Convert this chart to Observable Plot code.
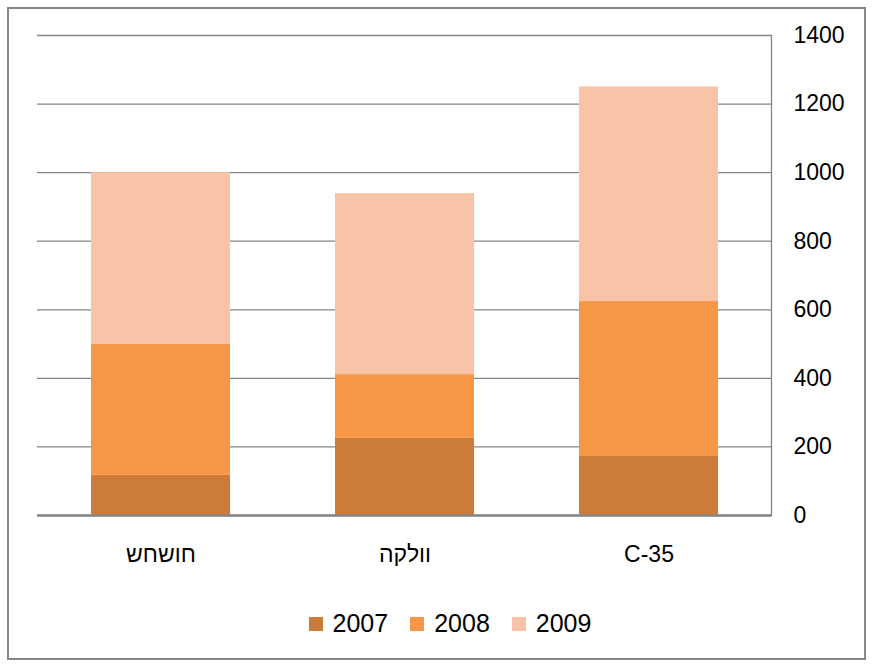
<!DOCTYPE html>
<html>
<head>
<meta charset="utf-8">
<script src="https://cdn.jsdelivr.net/npm/d3@7"></script>
<script src="https://cdn.jsdelivr.net/npm/@observablehq/plot@0.6"></script>
<style>
  body { margin: 0; background: #fff; }
  #wrap { position: relative; width: 873px; height: 666px; overflow: hidden; }
  #chart { position: absolute; left: 0; top: 0; }
  #legend { position: absolute; left: 0; top: 609px; width: 873px; display: flex; justify-content: center; padding-left: 27px; box-sizing: border-box;
            font-family: "Liberation Sans", Arial, sans-serif; font-size: 25px; color: #000; }
  .item { display: flex; align-items: center; margin-right: 22px; }
  .item:last-child { margin-right: 0; }
  .sw { width: 14px; height: 14px; margin-right: 10px; }
  #frame { position: absolute; left: 7px; top: 7px; width: 859px; height: 653px; border: 2px solid #868686; box-sizing: border-box; pointer-events: none; }
</style>
</head>
<body>
<div id="wrap">
  <div id="chart"></div>
  <div id="legend"></div>
  <div id="frame"></div>
</div>
<script>
const categories = ["חושחש", "וולקה", "C-35"];
const years = ["2007", "2008", "2009"];
const values2007 = [117, 225, 172];
const values2008 = [383, 186, 452];
const values2009 = [500, 528, 626];
const colors = ["#CC7B38", "#F79646", "#F9C3A8"];
const yTicks = [0, 200, 400, 600, 800, 1000, 1200, 1400];

const series = [values2007, values2008, values2009];
const data = [];
years.forEach((yr, i) => categories.forEach((c, j) => data.push({cat: c, year: yr, value: series[i][j]})));

const plot = Plot.plot({
  width: 873,
  height: 600,
  marginLeft: 37,
  marginRight: 102,
  marginTop: 35,
  marginBottom: 85,
  style: {fontFamily: "Liberation Sans, Arial, sans-serif", color: "#000", background: "transparent"},
  x: {domain: categories, paddingInner: 0.432, paddingOuter: 0.216, label: null},
  y: {domain: [0, 1400], label: null},
  color: {domain: years, range: colors},
  marks: [
    Plot.gridY(yTicks, {stroke: "#868686", strokeOpacity: 1, strokeWidth: 1.3}),
    Plot.barY(data, {x: "cat", y: "value", fill: "year"}),
    Plot.ruleY([0], {stroke: "#868686", strokeWidth: 2.5}),
    Plot.frame({anchor: "right", stroke: "#868686", strokeWidth: 1.3}),
    Plot.axisY(yTicks, {anchor: "right", tickSize: 0, tickPadding: 22, fontSize: 23, label: null, textAnchor: "start", tickFormat: d => String(d)}),
    Plot.axisX({tickSize: 0, tickPadding: 30, fontSize: 23, label: null})
  ]
});
document.getElementById("chart").appendChild(plot);

const legend = document.getElementById("legend");
years.forEach((yr, i) => {
  const item = document.createElement("div");
  item.className = "item";
  const sw = document.createElement("div");
  sw.className = "sw";
  sw.style.background = colors[i];
  const t = document.createElement("span");
  t.textContent = yr;
  item.appendChild(sw);
  item.appendChild(t);
  legend.appendChild(item);
});
</script>
</body>
</html>
